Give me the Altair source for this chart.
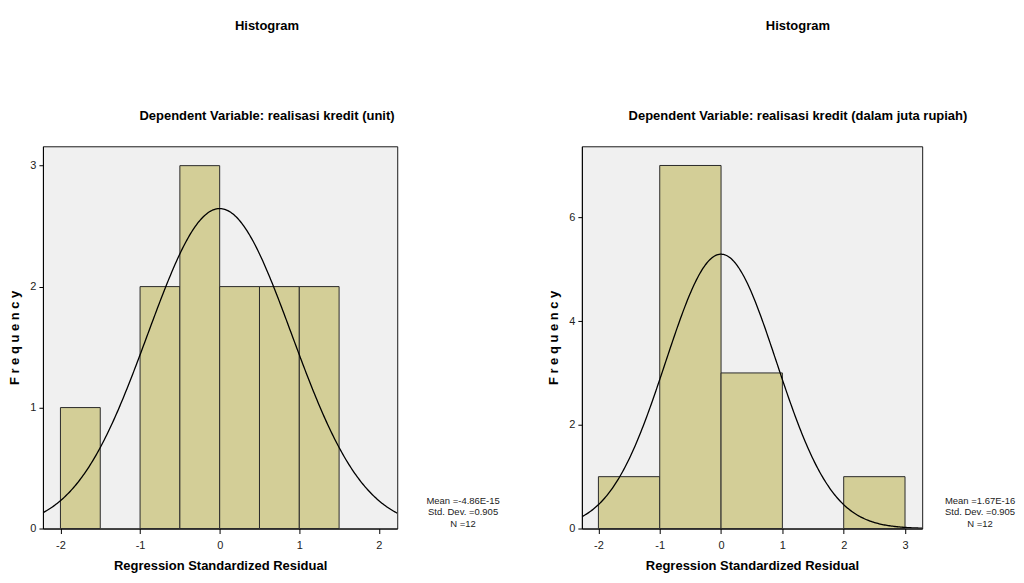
import altair as alt
import pandas as pd
import numpy as np

FONT = "Liberation Sans, Arial, sans-serif"

# ---- Left histogram: realisasi kredit (unit)
left_bin_start = [-2.0, -1.0, -0.5, 0.0, 0.5, 1.0]
left_bin_end = [-1.5, -0.5, 0.0, 0.5, 1.0, 1.5]
left_counts = [1, 2, 3, 2, 2, 2]
left_mean = -4.86e-15
left_sd = 0.905
left_n = 12
left_binw = 0.5
left_stats = ["Mean =-4.86E-15", "Std. Dev. =0.905", "N =12"]
left_subtitle = "Dependent Variable: realisasi kredit (unit)"
left_xticks = [-2, -1, 0, 1, 2]
left_yticks = [0, 1, 2, 3]
left_xdom = [-2.22, 2.23]
left_ydom = [0, 3.16]

# ---- Right histogram: realisasi kredit (dalam juta rupiah)
right_bin_start = [-2.0, -1.0, 0.0, 2.0]
right_bin_end = [-1.0, 0.0, 1.0, 3.0]
right_counts = [1, 7, 3, 1]
right_mean = 1.67e-16
right_sd = 0.905
right_n = 12
right_binw = 1.0
right_stats = ["Mean =1.67E-16", "Std. Dev. =0.905", "N =12"]
right_subtitle = "Dependent Variable: realisasi kredit (dalam juta rupiah)"
right_xticks = [-2, -1, 0, 1, 2, 3]
right_yticks = [0, 2, 4, 6]
right_xdom = [-2.27, 3.28]
right_ydom = [0, 7.37]

BAR_FILL = "#d3ce97"


def panel(starts, ends, counts, mean, sd, n, binw, stats, subtitle,
          xdom, ydom, xticks, yticks, w, h, title_dx, stat_dx):
    bars = pd.DataFrame({"x0": starts, "x1": ends, "count": counts,
                         "base": [0] * len(counts)})
    xs = np.linspace(xdom[0], xdom[1], 301)
    ys = n * binw * np.exp(-0.5 * ((xs - mean) / sd) ** 2) / (sd * np.sqrt(2 * np.pi))
    curve = pd.DataFrame({"x": xs, "y": ys})
    stat_df = pd.DataFrame({"label": ["\n".join(stats)]})

    xsc = alt.Scale(domain=xdom, nice=False, zero=False)
    ysc = alt.Scale(domain=ydom, nice=False)
    xaxis = alt.Axis(values=xticks, title="Regression Standardized Residual",
                     grid=False, labelExpr="'' + datum.value")
    yaxis = alt.Axis(values=yticks, title="F r e q u e n c y", grid=False,
                     labelExpr="'' + datum.value")

    b = alt.Chart(bars).mark_rect(fill=BAR_FILL, stroke="#2a2a2a", strokeWidth=1).encode(
        x=alt.X("x0:Q", scale=xsc, axis=xaxis),
        x2="x1:Q",
        y=alt.Y("count:Q", scale=ysc, axis=yaxis),
        y2="base:Q",
    )
    c = alt.Chart(curve).mark_line(color="black", strokeWidth=1.3, clip=True).encode(
        x="x:Q", y="y:Q"
    )
    t = alt.Chart(stat_df).mark_text(
        align="center", baseline="top", lineBreak="\n", lineHeight=11.5,
        fontSize=9.5, font=FONT, color="#222"
    ).encode(text="label:N", x=alt.value(w + stat_dx), y=alt.value(h - 33))

    return alt.layer(b, c, t).properties(
        width=w, height=h,
        title=alt.TitleParams(
            "Histogram", subtitle=subtitle, fontSize=13, fontWeight="bold",
            font=FONT, subtitleFont=FONT, subtitleFontSize=13,
            subtitleFontWeight="bold", subtitleColor="black", color="black",
            subtitlePadding=77, offset=23.5, anchor="middle", frame="group",
            dx=title_dx,
        ),
    )


left = panel(left_bin_start, left_bin_end, left_counts, left_mean, left_sd, left_n,
             left_binw, left_stats, left_subtitle, left_xdom, left_ydom,
             left_xticks, left_yticks, 355, 383, 47, 66)
right = panel(right_bin_start, right_bin_end, right_counts, right_mean, right_sd,
              right_n, right_binw, right_stats, right_subtitle, right_xdom, right_ydom,
              right_xticks, right_yticks, 341, 383, 46, 58)

chart = alt.hconcat(left, right, spacing=46).properties(
    padding={"left": 0, "top": 11, "right": 0, "bottom": 0}
).configure_view(
    fill="#f0f0f0", stroke="#1a1a1a", strokeWidth=1
).configure_axis(
    domainColor="black", tickColor="black", tickSize=4, labelFont=FONT,
    labelFontSize=11, labelColor="#222", titleFont=FONT, titleFontSize=13,
    titleFontWeight="bold", titleColor="black", labelPadding=3
).configure_axisX(
    tickSize=5, labelPadding=6, titlePadding=9
).configure_axisY(
    titlePadding=8
)

chart.save("out.html", embed_options={"renderer": "svg", "actions": False})
